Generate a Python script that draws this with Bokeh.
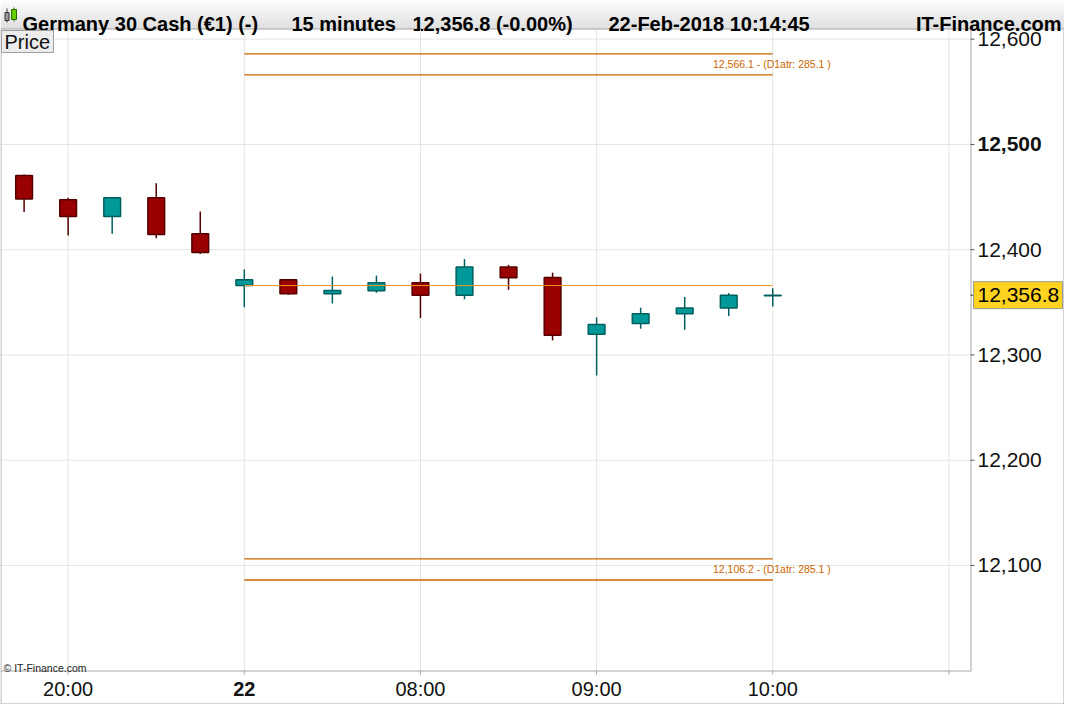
import numpy as np
from bokeh.plotting import figure
from bokeh.models import ColumnDataSource, Range1d
from bokeh.embed import file_html
from bokeh.resources import INLINE
from bokeh.core.properties import value

# ---------------- data ----------------
times = ["19:45", "20:00", "20:15", "20:30", "20:45", "07:00", "07:15", "07:30", "07:45",
         "08:00", "08:15", "08:30", "08:45", "09:00", "09:15", "09:30", "09:45", "10:00"]
opens = [12470.6, 12447.5, 12431.5, 12449.4, 12415.2, 12365.9, 12371.4, 12358.1, 12361.0,
         12368.7, 12356.7, 12383.5, 12373.6, 12319.7, 12329.8, 12339.1, 12344.6, 12356.3]
highs = [12471.5, 12449.4, 12449.4, 12463.2, 12436.4, 12381.2, 12371.4, 12374.5, 12375.4,
         12377.3, 12391.1, 12385.6, 12378.2, 12335.7, 12344.9, 12355.1, 12358.8, 12363.4]
lows = [12435.8, 12413.6, 12415.2, 12410.8, 12396.0, 12345.2, 12357.2, 12348.9, 12359.0,
        12335.0, 12352.9, 12361.9, 12313.8, 12280.5, 12324.9, 12323.9, 12336.9, 12346.1]
closes = [12448.2, 12431.5, 12449.4, 12414.5, 12397.3, 12371.4, 12358.1, 12361.3, 12368.7,
          12356.7, 12383.5, 12373.3, 12318.8, 12328.9, 12339.1, 12344.6, 12356.7, 12356.8]
day_start = 5  # first bar of 22-Feb

atr_value = 285.1
atr_upper_levels = [12586.1, 12566.1]
atr_lower_levels = [12106.2, 12086.2]

x_tick_pos = [1, 5, 9, 13, 17, 21]
x_tick_labels = ["20:00", "22", "08:00", "09:00", "10:00", ""]
x_bold_labels = ["22"]
y_tick_pos = [12100, 12200, 12300, 12400, 12500, 12600]
y_tick_labels = ["12,100", "12,200", "12,300", "12,400", "12,500", "12,600"]
y_bold_labels = ["12,500"]

header_parts = ["Germany 30 Cash (\u20ac1) (-)", "15 minutes", "12,356.8 (-0.00%)", "22-Feb-2018 10:14:45"]
header_right = "IT-Finance.com"
panel_name = "Price"
copyright_txt = "\u00a9 IT-Finance.com"

FONT = value("Liberation Sans")

# ---------------- layout (pixels) ----------------
W, H = 1064, 704
HDR = 29
CL, CR, CT, CB = 0, 970, 29, 670          # price panel frame in canvas pixels
X0, X1 = -0.536, 21.49                      # bar-index range shown in the panel
Y0, Y1 = 12000.2, 12609.2                   # price range shown in the panel
ppx = (CR - CL) / (X1 - X0)
ppy = (CB - CT) / (Y1 - Y0)

p = figure(width=W, height=H,
           x_range=Range1d(X0 - CL / ppx, X1 + (W - CR) / ppx),
           y_range=Range1d(Y0 - (H - CB) / ppy, Y1 + CT / ppy),
           toolbar_location=None, output_backend="svg", min_border=0,
           x_axis_location=None, y_axis_location=None)
p.grid.visible = False
p.outline_line_color = None
p.background_fill_color = "#ffffff"
p.border_fill_color = "#ffffff"
p.extra_x_ranges = {"px": Range1d(0, W)}
p.extra_y_ranges = {"py": Range1d(H, 0)}
PX = dict(x_range_name="px", y_range_name="py")

# ---------------- header ----------------
rows = np.arange(HDR - 1)
shade = [int(round(250 - (250 - 214) * r / (HDR - 2))) for r in rows]
grad = ["#%02x%02x%02x" % (s, s, s) for s in shade]
p.quad(left=0, right=W, top=rows, bottom=rows + 1, fill_color=grad, line_color=None, **PX)
p.quad(left=0, right=W, top=HDR - 1, bottom=HDR, fill_color="#a0a0a0", line_color=None, **PX)
# small candle icon
p.segment(x0=[6.5, 13.5], y0=[8, 7], x1=[6.5, 13.5], y1=[22, 21],
          line_color=["#333333", "#2a6a00"], line_width=1, **PX)
p.quad(left=[4.5, 11], right=[8.5, 16], top=[12, 9], bottom=[20, 19],
       fill_color=["#9a9a9a", "#66cc00"], line_color=["#333333", "#2a6a00"], line_width=1, **PX)
hx = [22, 291, 412, 608]
p.text(x=hx, y=[23] * len(hx), text=header_parts, text_font=FONT, text_font_style="bold",
       text_font_size="20px", text_color="#000000", text_baseline="alphabetic", text_align="left", **PX)
p.text(x=[W - 3], y=[23], text=[header_right], text_font=FONT, text_font_style="bold",
       text_font_size="20px", text_color="#000000", text_baseline="alphabetic", text_align="right", **PX)

# ---------------- grid ----------------
p.segment(x0=x_tick_pos, x1=x_tick_pos, y0=[CT] * len(x_tick_pos), y1=[CB] * len(x_tick_pos),
          line_color="#e4e4e4", line_width=1, y_range_name="py")
p.segment(x0=[CL] * len(y_tick_pos), x1=[CR] * len(y_tick_pos), y0=y_tick_pos, y1=y_tick_pos,
          line_color="#e4e4e4", line_width=1, x_range_name="px")

# ---------------- candles ----------------
xs = list(range(len(times)))
up = [c >= o for o, c in zip(opens, closes)]
src = ColumnDataSource(dict(
    x=xs, open=opens, close=closes, high=highs, low=lows,
    top=[max(o, c) for o, c in zip(opens, closes)],
    bottom=[min(o, c) for o, c in zip(opens, closes)],
    fill=["#009999" if u else "#990000" for u in up],
    edge=["#005f5f" if u else "#550000" for u in up],
))
p.segment(x0="x", y0="low", x1="x", y1="high", line_color="edge", line_width=1.5, source=src)
p.vbar(x="x", width=0.38, top="top", bottom="bottom", fill_color="fill", line_color="edge",
       line_width=1.5, source=src)

last_i = len(times) - 1
day_open = opens[day_start]
p.segment(x0=[day_start], y0=[day_open], x1=[last_i], y1=[day_open], line_color="#f7941d", line_width=1)

atr_levels = atr_upper_levels + atr_lower_levels
p.segment(x0=[day_start] * 4, y0=atr_levels, x1=[last_i] * 4, y1=atr_levels,
          line_color="#cc6600", line_width=1.3)
atr_txt = [f"{atr_upper_levels[1]:,.1f}  - (D1atr: {atr_value} )",
           f"{atr_lower_levels[0]:,.1f}  - (D1atr: {atr_value} )"]
atr_y = [sum(atr_upper_levels) / 2, sum(atr_lower_levels) / 2]
p.text(x=[last_i, last_i], y=atr_y, text=atr_txt, text_align="right", text_baseline="middle",
       x_offset=61, text_font=FONT, text_font_size="10.5px", text_color="#cc6600")

# ---------------- frame lines / axes ----------------
p.segment(x0=[0.5, CR + 0.5, W - 0.5], x1=[0.5, CR + 0.5, W - 0.5], y0=[CT, CT, CT], y1=[H, CB, H],
          line_color="#a8a8a8", line_width=1, **PX)
p.segment(x0=[0, 0], x1=[CR + 1, W], y0=[CB + 0.5, H - 0.5], y1=[CB + 0.5, H - 0.5],
          line_color="#a8a8a8", line_width=1, **PX)

# bottom axis ticks and labels
p.segment(x0=x_tick_pos, x1=x_tick_pos, y0=[CB] * len(x_tick_pos), y1=[CB + 4] * len(x_tick_pos),
          line_color="#a8a8a8", line_width=1, y_range_name="py")
xlab = ColumnDataSource(dict(
    x=x_tick_pos, y=[CB + 18] * len(x_tick_pos), t=x_tick_labels,
    st=["bold" if l in x_bold_labels else "normal" for l in x_tick_labels]))
p.text(x="x", y="y", text="t", text_font_style="st", source=xlab, text_align="center",
       text_baseline="middle", text_font=FONT, text_font_size="20px", text_color="#111111",
       y_range_name="py")

# right axis ticks and labels
p.segment(x0=[CR] * len(y_tick_pos), x1=[CR + 4] * len(y_tick_pos), y0=y_tick_pos, y1=y_tick_pos,
          line_color="#555555", line_width=1, x_range_name="px")
ylab = ColumnDataSource(dict(
    x=[CR + 7] * len(y_tick_pos), y=y_tick_pos, t=y_tick_labels,
    st=["bold" if l in y_bold_labels else "normal" for l in y_tick_labels]))
p.text(x="x", y="y", text="t", text_font_style="st", source=ylab, text_align="left",
       text_baseline="middle", text_font=FONT, text_font_size="21px", text_color="#111111",
       x_range_name="px")

# last price box
last = closes[-1]
p.segment(x0=[CR], x1=[CR + 4], y0=[last], y1=[last], line_color="#333333", line_width=1, x_range_name="px")
p.rect(x=[(CR + 3 + W - 2) / 2], y=[last], width=[W - 2 - CR - 3], height=27, height_units="screen",
       fill_color="#ffd21f", line_color="#9a9a9a", line_width=1, x_range_name="px")
p.text(x=[CR + 7], y=[last], text=[f"{last:,.1f}"], text_align="left", text_baseline="middle",
       text_font=FONT, text_font_size="21px", text_color="#000000", x_range_name="px")

# "Price" panel label
p.rect(x=[27], y=[41], width=[52], height=[22], fill_color="#ececec", line_color="#a0a0a0",
       line_width=1, **PX)
p.text(x=[4], y=[41], text=[panel_name], text_align="left", text_baseline="middle",
       text_font=FONT, text_font_size="20px", text_color="#111111", **PX)

# copyright
p.text(x=[3], y=[CB - 3], text=[copyright_txt], text_align="left", text_baseline="alphabetic",
       text_font=FONT, text_font_size="10.5px", text_color="#222222", **PX)

open("out.html", "w").write(file_html(p, INLINE))
